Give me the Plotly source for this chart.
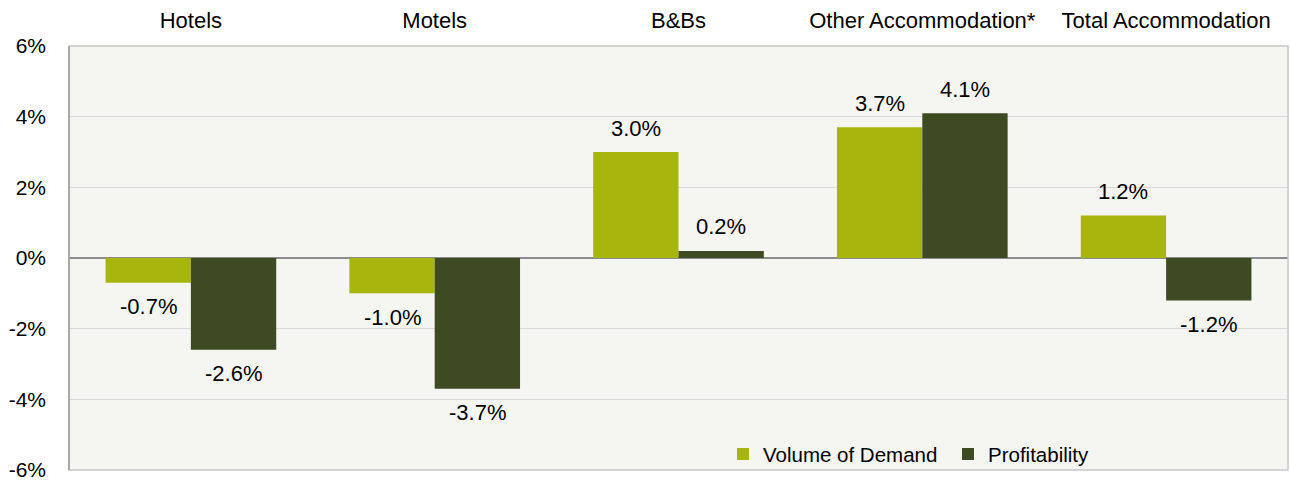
import plotly.graph_objects as go

categories = ["Hotels", "Motels", "B&Bs", "Other Accommodation*", "Total Accommodation"]
volume = [-0.7, -1.0, 3.0, 3.7, 1.2]
profit = [-2.6, -3.7, 0.2, 4.1, -1.2]
series_names = ["Volume of Demand", "Profitability"]
y_ticks = [-6, -4, -2, 0, 2, 4, 6]
y_ticktext = [f"{v}%" for v in y_ticks]

FONT = "Liberation Sans, Arial, sans-serif"
C_VOL = "#a8b50c"
C_PRO = "#3d4a22"

xs = list(range(len(categories)))
fig = go.Figure()
fig.add_trace(go.Bar(x=xs, y=volume, name=series_names[0], marker=dict(color=C_VOL, line=dict(width=0))))
fig.add_trace(go.Bar(x=xs, y=profit, name=series_names[1], marker=dict(color=C_PRO, line=dict(width=0))))

anns = []
bw = 0.35
for vals, off in ((volume, -bw / 2), (profit, bw / 2)):
    for i, v in enumerate(vals):
        anns.append(dict(x=i + off, y=v, xref="x", yref="y", text=f"{v:.1f}%",
                         showarrow=False, yshift=24 if v >= 0 else -24,
                         font=dict(family=FONT, size=22, color="#000")))

fig.update_layout(
    width=1290, height=486, autosize=False,
    margin=dict(l=69, r=2, t=46, b=16),
    paper_bgcolor="white", plot_bgcolor="#f5f5f1",
    barmode="group", bargap=0.3, bargroupgap=0,
    font=dict(family=FONT, size=21, color="#000"),
    annotations=anns,
    showlegend=True,
    legend=dict(orientation="h", x=0.5365, y=-0.01, xanchor="left", yanchor="bottom",
                bgcolor="rgba(0,0,0,0)", font=dict(family=FONT, size=20.5, color="#000"),
                entrywidth=180, entrywidthmode="pixels", itemsizing="constant"),
    xaxis=dict(side="top", tickmode="array", tickvals=xs, ticktext=categories,
               range=[-0.5, 4.5], showgrid=False, zeroline=False, automargin=False,
               ticks="outside", ticklen=8, tickcolor="rgba(0,0,0,0)",
               tickfont=dict(family=FONT, size=22, color="#000"), fixedrange=True),
    yaxis=dict(range=[-6, 6], tickmode="array", tickvals=y_ticks, ticktext=y_ticktext,
               showgrid=True, gridcolor="#d9d9d9", gridwidth=1, automargin=False,
               zeroline=True, zerolinecolor="#8c8c8c", zerolinewidth=2,
               ticks="", ticklabelstandoff=22,
               tickfont=dict(family=FONT, size=21, color="#000"), fixedrange=True),
    shapes=[
        dict(type="rect", xref="paper", yref="paper", x0=0, x1=1, y0=0, y1=1,
             line=dict(color="#c8c8c8", width=1.5), layer="above"),
        dict(type="line", xref="paper", yref="paper", x0=0, x1=0, y0=0, y1=1,
             line=dict(color="#9a9a9a", width=1.5), layer="above"),
    ],
)
fig.write_html(
    "out.html",
    config={"responsive": False, "displayModeBar": False},
    post_script="document.body.style.margin='0';document.body.style.overflow='hidden';",
)
